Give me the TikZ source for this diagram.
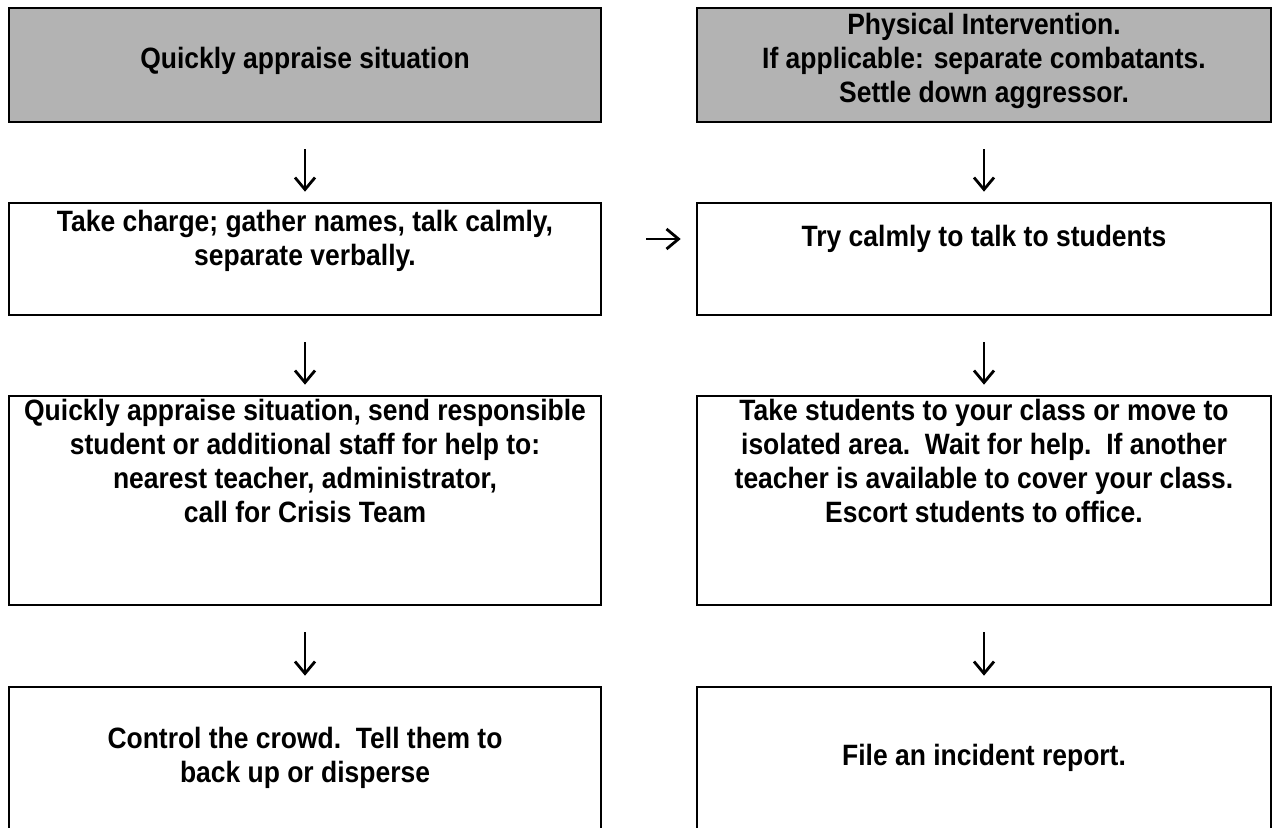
\documentclass[tikz,border=0pt]{standalone}
\usepackage{fontspec}
\setmainfont{Liberation Sans}[FakeStretch=0.90]
\usetikzlibrary{arrows.meta}
\definecolor{kopfgrau}{RGB}{179,179,179}

\begin{document}
\begin{tikzpicture}[x=0.5pt, y=-0.5pt,
    every node/.style={align=center, font=\bfseries\fontsize{14.7}{17}\selectfont},
    kasten/.style={draw, line width=1.3pt, inner sep=0pt},
    links/.style={kasten, minimum width=296pt},
    rechts/.style={kasten, minimum width=287pt},
    pfeil/.style={-{Straight Barb[length=6pt,width=10pt,line width=1.4pt]}, line width=1pt, shorten <=13pt, shorten >=5pt}]

    % Rahmen
    \useasboundingbox (0,0) rectangle (1274,828);
    \clip (0,0) rectangle (1274,828);

    % Kästen links
    \node[links, fill=kopfgrau, minimum height=57pt] (L1) at (305,65) {};
    \node[links, minimum height=56pt] (L2) at (305,259) {};
    \node[links, minimum height=104.5pt] (L3) at (305,500.5) {};
    \node[links, minimum height=90pt] (L4) at (305,777) {};

    % Kästen rechts
    \node[rechts, fill=kopfgrau, minimum height=57pt] (R1) at (984,65) {};
    \node[rechts, minimum height=56pt] (R2) at (984,259) {};
    \node[rechts, minimum height=104.5pt] (R3) at (984,500.5) {};
    \node[rechts, minimum height=90pt] (R4) at (984,777) {};

    % Texte
    \node (tL1) at (305,61) {Quickly appraise situation};
    \node (tL2) at (305,241) {Take charge; gather names, talk calmly,\\separate verbally.};
    \node (tL3) at (305,461) {Quickly appraise situation, send responsible\\student or additional staff for help to:\\nearest teacher, administrator,\\call for Crisis Team};
    \node (tL4) at (305,758) {Control the crowd.\ \ Tell them to\\back up or disperse};
    \node (tR1) at (984,61) {Physical Intervention.\\If applicable: separate combatants.\\Settle down aggressor.};
    \node (tR2) at (984,239) {Try calmly to talk to students};
    \node (tR3) at (984,461) {Take students to your class or move to\\isolated area.\ \ Wait for help.\ \ If another\\teacher is available to cover your class.\\Escort students to office.};
    \node (tR4) at (984,758) {File an incident report.};

    % Pfeile
    \draw[pfeil] (L1) -- (L2);
    \draw[pfeil] (L2) -- (L3);
    \draw[pfeil] (L3) -- (L4);
    \draw[pfeil] (R1) -- (R2);
    \draw[pfeil] (R2) -- (R3);
    \draw[pfeil] (R3) -- (R4);
    \draw[pfeil, shorten <=22pt, shorten >=7.5pt] ([yshift=10pt]L2.east) -- ([yshift=10pt]R2.west);

\end{tikzpicture}
\end{document}
